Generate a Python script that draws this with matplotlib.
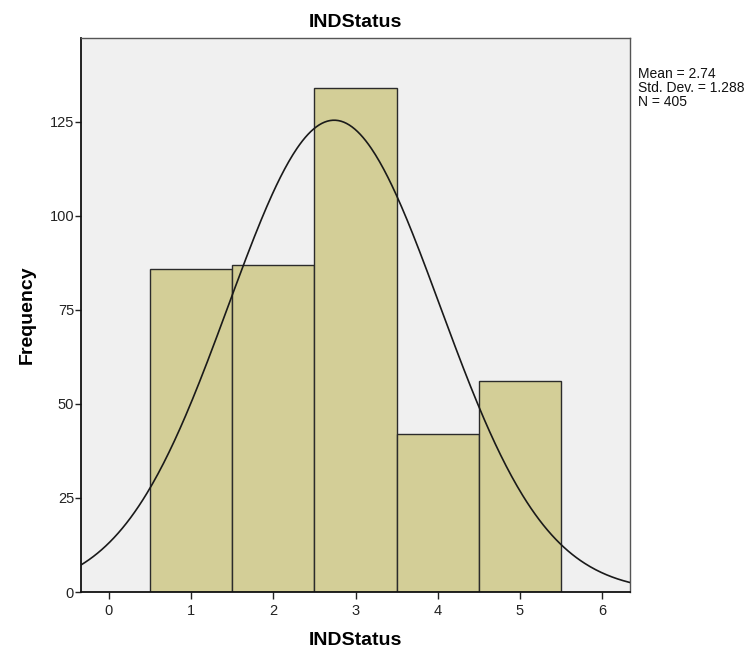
import numpy as np
import matplotlib
matplotlib.use("Agg")
import matplotlib.pyplot as plt
from matplotlib import font_manager

categories = [1, 2, 3, 4, 5]
frequencies = [86, 87, 134, 42, 56]
mean_val = 2.74
std_val = 1.288
n_val = 405
xticks = [0, 1, 2, 3, 4, 5, 6]
yticks = [0, 25, 50, 75, 100, 125]

names = {f.name for f in font_manager.fontManager.ttflist}
narrow = 'Liberation Sans Narrow' if 'Liberation Sans Narrow' in names else 'Liberation Sans'
plt.rcParams['font.family'] = [narrow, 'DejaVu Sans']

fig = plt.figure(figsize=(7.55, 6.56), dpi=100)
ax = fig.add_axes([81/755, 1-592/656, (630-81)/755, (592-38)/656])
ax.set_facecolor('#F0F0F0')

ax.bar(categories, frequencies, width=1.0, color='#D3CE97', edgecolor='#2b2b2b', linewidth=1.0, zorder=2)

xs = np.linspace(-0.34, 6.34, 400)
ys = n_val * 1.0 / (std_val * np.sqrt(2*np.pi)) * np.exp(-0.5*((xs-mean_val)/std_val)**2)
ax.plot(xs, ys, color='#1a1a1a', linewidth=1.2, zorder=3)

ax.set_xlim(-0.34, 6.34)
ax.set_ylim(0, 147.3)
ax.set_xticks(xticks)
ax.set_yticks(yticks)
ax.tick_params(axis='both', direction='out', length=5, width=1, colors='#222222', labelsize=10.5)
ax.tick_params(axis='y', length=4, pad=1)
for s in ax.spines.values():
    s.set_color('#555555')
    s.set_linewidth(1.0)
ax.spines['left'].set_color('#111111')
ax.spines['bottom'].set_color('#111111')
ax.spines['left'].set_linewidth(1.3)
ax.spines['bottom'].set_linewidth(1.3)

ax.set_title('INDStatus', fontsize=14, fontweight='bold', family='Liberation Sans', pad=8)
ax.set_xlabel('INDStatus', fontsize=14, fontweight='bold', family='Liberation Sans', labelpad=10)
ax.set_ylabel('Frequency', fontsize=14, fontweight='bold', family='Liberation Sans', labelpad=10)

fig.text(638/755, 1-67/656, 'Mean = 2.74\nStd. Dev. = 1.288\nN = 405', fontsize=10,
         va='top', ha='left', linespacing=1.0, color='#111111')

fig.savefig('out.png', dpi=100, facecolor='white')
